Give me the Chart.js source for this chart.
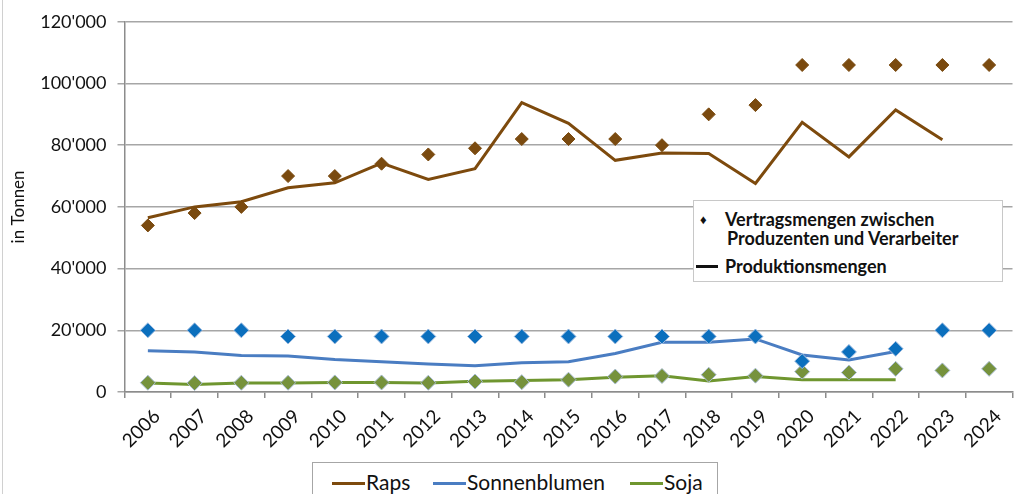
<!DOCTYPE html>
<html lang="de">

<head>
    <meta charset="UTF-8">
    <title>Raps, Sonnenblumen, Soja</title>
    <script src="https://cdn.jsdelivr.net/npm/chart.js"></script>
    <style>
        html, body { margin: 0; padding: 0; background: #fff; }
        body { width: 1015px; height: 494px; overflow: hidden; position: relative; font-family: Lato, "Noto Sans", sans-serif; }
        #wrap { position: absolute; left: 0; top: 0; width: 1021px; height: 494px; }
        #edge { position: absolute; left: 2px; top: 0; width: 1px; height: 494px; background: #d0d0d0; }
        #typeLegend { position: absolute; left: 693px; top: 200px; width: 308px; height: 80px; background: #fff;
            border: 1px solid #c8c8c8; font-weight: bold; font-size: 18px; line-height: 22px; color: #111; }
        #typeLegend div { position: absolute; white-space: nowrap; }
        #cropLegend { position: absolute; left: 312px; top: 462px; width: 404px; height: 44px; background: #fff;
            border: 1px solid #a6a6a6; font-size: 21px; color: #111; }
        #cropLegend span.item { position: absolute; top: 6px; white-space: nowrap; }
        #cropLegend span.sw { display: inline-block; width: 33px; height: 3px; vertical-align: middle; margin-right: 1px; position: relative; top: -1px; }
    </style>
</head>

<body>
    <div id="wrap">
        <canvas id="oilChart"></canvas>
    </div>
    <div id="edge"></div>

    <div id="typeLegend">
        <div style="left:6px; top:7px; font-size:13px;">&#9830;</div>
        <div style="left:31px; top:7px;">Vertragsmengen zwischen</div>
        <div style="left:33px; top:26px;">Produzenten und Verarbeiter</div>
        <div style="left:2px; top:53px; width:22px; height:2.5px; background:#111; top:64px;"></div>
        <div style="left:31px; top:54px;">Produktionsmengen</div>
    </div>

    <div id="cropLegend"></div>

    <script>
        // years on the x axis
        const years = ['2006', '2007', '2008', '2009', '2010', '2011', '2012', '2013', '2014', '2015',
            '2016', '2017', '2018', '2019', '2020', '2021', '2022', '2023', '2024'];

        // production (lines), in tonnes
        const rapsProd = [56500, 60000, 61700, 66200, 67800, 74200, 68900, 72400, 93800, 87100,
            75100, 77500, 77300, 67600, 87400, 76200, 91400, 81800, null];
        const sunProd = [13400, 13000, 11800, 11700, 10500, 9800, 9100, 8500, 9500, 9800,
            12500, 16100, 16100, 17200, 12000, 10400, 13100, null, null];
        const sojaProd = [2900, 2400, 2900, 2900, 3100, 3100, 2900, 3500, 3700, 4000,
            4800, 5300, 3600, 5000, 4000, 4000, 4000, null, null];

        // contract volumes (diamonds), in tonnes
        const rapsContract = [54000, 58000, 60000, 70000, 70000, 74000, 77000, 79000, 82000, 82000,
            82000, 80000, 90000, 93000, 106000, 106000, 106000, 106000, 106000];
        const sunContract = [20000, 20000, 20000, 18000, 18000, 18000, 18000, 18000, 18000, 18000,
            18000, 18000, 18000, 18000, 10000, 13000, 14000, 20000, 20000];
        const sojaContract = [3000, 2900, 3000, 3000, 3100, 3100, 3000, 3400, 3200, 4000,
            5000, 5200, 5600, 5300, 6600, 6300, 7500, 7000, 7500];

        const crops = ['Raps', 'Sonnenblumen', 'Soja'];
        const lineColors = ['#7d4a0d', '#4a7dc2', '#6f962f'];
        const dotColors = ['#7a4a0f', '#0b6fbd', '#76923c'];
        const dotBorders = ['#7a4a0f', '#9dbbe0', '#a9bcd4'];

        const yMax = 120000;
        const yStep = 20000;

        // thousands separator like 120'000
        function fmt(v) {
            return String(v).replace(/\B(?=(\d{3})+(?!\d))/g, "'");
        }

        function diamonds(i, data) {
            return {
                label: crops[i] + ' Vertrag',
                data: data,
                showLine: false,
                pointStyle: 'rectRot',
                pointRadius: i === 0 ? 6.5 : 7.5,
                pointBackgroundColor: dotColors[i],
                pointBorderColor: dotBorders[i],
                pointBorderWidth: 1,
                borderColor: dotColors[i],
                backgroundColor: dotColors[i]
            };
        }

        function prodLine(i, data) {
            return {
                label: crops[i],
                data: data,
                borderColor: lineColors[i],
                backgroundColor: lineColors[i],
                borderWidth: 3,
                pointRadius: 0,
                tension: 0,
                spanGaps: false
            };
        }

        // diamonds first so they are painted on top of the lines
        const datasets = [
            diamonds(0, rapsContract), diamonds(1, sunContract), diamonds(2, sojaContract),
            prodLine(0, rapsProd), prodLine(1, sunProd), prodLine(2, sojaProd)
        ];

        new Chart(document.getElementById('oilChart'), {
            type: 'line',
            data: { labels: years, datasets: datasets },
            options: {
                responsive: true,
                maintainAspectRatio: false,
                animation: false,
                layout: { padding: { top: 19, left: 0, right: 0, bottom: 0 } },
                plugins: {
                    legend: { display: false },
                    tooltip: { enabled: false }
                },
                scales: {
                    x: {
                        offset: true,
                        grid: {
                            offset: true,
                            drawOnChartArea: false,
                            drawTicks: true,
                            tickLength: 6,
                            color: '#8c8c8c',
                            lineWidth: 1.5
                        },
                        border: { color: '#8c8c8c', width: 1.5 },
                        ticks: {
                            autoSkip: false,
                            minRotation: 45,
                            maxRotation: 45,
                            padding: 7,
                            labelOffset: 9,
                            color: '#111',
                            font: { family: 'Lato', size: 19 }
                        },
                        afterFit: function (scale) { scale.height = 102; }
                    },
                    y: {
                        min: 0,
                        max: yMax,
                        grid: {
                            color: '#a6a6a6',
                            lineWidth: 1.5,
                            tickLength: 7
                        },
                        border: { color: '#8c8c8c', width: 1.5 },
                        ticks: {
                            stepSize: yStep,
                            padding: 11,
                            color: '#111',
                            font: { family: 'Lato', size: 18 },
                            callback: function (v) { return fmt(v); }
                        },
                        title: {
                            display: true,
                            text: 'in Tonnen',
                            color: '#111',
                            font: { family: 'Lato', size: 17 },
                            padding: { top: 8, bottom: 0 }
                        },
                        afterFit: function (scale) { scale.width = 124.5; }
                    }
                }
            }
        });

        // bottom legend built from the crop names and line colours
        const cropLegend = document.getElementById('cropLegend');
        const itemLeft = [19, 120, 317];
        crops.forEach(function (name, i) {
            const item = document.createElement('span');
            item.className = 'item';
            item.style.left = itemLeft[i] + 'px';
            const sw = document.createElement('span');
            sw.className = 'sw';
            sw.style.background = lineColors[i];
            item.appendChild(sw);
            item.appendChild(document.createTextNode(name));
            cropLegend.appendChild(item);
        });
    </script>
</body>

</html>
